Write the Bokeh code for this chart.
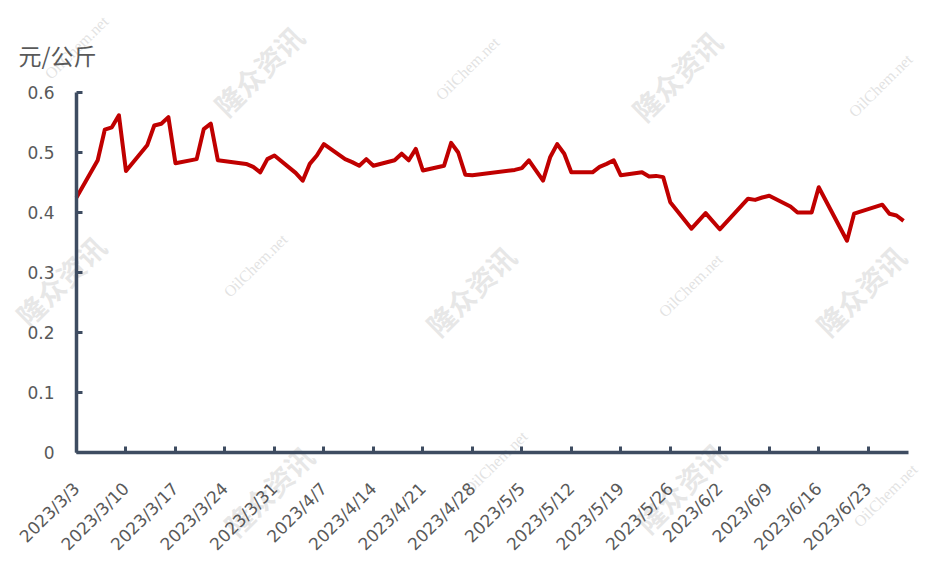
import pandas as pd
from bokeh.plotting import figure
from bokeh.models import Range1d, FixedTicker, Label
from bokeh.embed import file_html
from bokeh.resources import INLINE
from math import pi

# ---- data ----
dates = ["2023-03-03", "2023-03-06", "2023-03-07", "2023-03-08", "2023-03-09", "2023-03-10",
         "2023-03-13", "2023-03-14", "2023-03-15", "2023-03-16", "2023-03-17",
         "2023-03-20", "2023-03-21", "2023-03-22", "2023-03-23",
         "2023-03-27", "2023-03-28", "2023-03-29", "2023-03-30", "2023-03-31",
         "2023-04-03", "2023-04-04", "2023-04-05", "2023-04-06", "2023-04-07",
         "2023-04-10", "2023-04-11", "2023-04-12", "2023-04-13", "2023-04-14",
         "2023-04-17", "2023-04-18", "2023-04-19", "2023-04-20", "2023-04-21",
         "2023-04-24", "2023-04-25", "2023-04-26", "2023-04-27", "2023-04-28",
         "2023-05-04", "2023-05-05", "2023-05-06",
         "2023-05-08", "2023-05-09", "2023-05-10", "2023-05-11", "2023-05-12",
         "2023-05-15", "2023-05-16", "2023-05-17", "2023-05-18", "2023-05-19",
         "2023-05-22", "2023-05-23", "2023-05-24", "2023-05-25", "2023-05-26",
         "2023-05-29", "2023-05-31", "2023-06-02",
         "2023-06-06", "2023-06-07", "2023-06-08", "2023-06-09",
         "2023-06-12", "2023-06-13", "2023-06-15", "2023-06-16",
         "2023-06-20", "2023-06-21",
         "2023-06-25", "2023-06-26", "2023-06-27", "2023-06-28"]
prices = [0.425, 0.487, 0.538, 0.542, 0.562, 0.469,
          0.512, 0.545, 0.548, 0.559, 0.482,
          0.489, 0.539, 0.548, 0.487,
          0.481, 0.476, 0.467, 0.489, 0.495,
          0.466, 0.453, 0.481, 0.495, 0.514,
          0.489, 0.484, 0.478, 0.489, 0.478,
          0.487, 0.498, 0.487, 0.506, 0.470,
          0.478, 0.516, 0.500, 0.463, 0.462,
          0.471, 0.474, 0.487,
          0.453, 0.492, 0.514, 0.498, 0.467,
          0.467, 0.476, 0.481, 0.487, 0.462,
          0.467, 0.460, 0.461, 0.459, 0.417,
          0.373, 0.399, 0.372,
          0.423, 0.421, 0.425, 0.428,
          0.410, 0.400, 0.400, 0.442,
          0.353, 0.398,
          0.413, 0.398, 0.395, 0.386]

tick_dates = ["2023-03-03", "2023-03-10", "2023-03-17", "2023-03-24", "2023-03-31",
              "2023-04-07", "2023-04-14", "2023-04-21", "2023-04-28", "2023-05-05",
              "2023-05-12", "2023-05-19", "2023-05-26", "2023-06-02", "2023-06-09",
              "2023-06-16", "2023-06-23"]
tick_labels = ["2023/3/3", "2023/3/10", "2023/3/17", "2023/3/24", "2023/3/31",
               "2023/4/7", "2023/4/14", "2023/4/21", "2023/4/28", "2023/5/5",
               "2023/5/12", "2023/5/19", "2023/5/26", "2023/6/2", "2023/6/9",
               "2023/6/16", "2023/6/23"]
y_ticks = [0, 0.1, 0.2, 0.3, 0.4, 0.5, 0.6]
y_labels = ["0", "0.1", "0.2", "0.3", "0.4", "0.5", "0.6"]
unit_label = "元/公斤"
wm_cn = "隆众资讯"
wm_en = "OilChem.net"

# ---- layout geometry (pixels within the canvas, measured from top-left) ----
W, H = 924, 560
plot_left, plot_right, plot_top, plot_bottom = 76, 908, 92, 452
DAY = 86400000
t0 = pd.Timestamp("2023-03-03").value / 1e6
t_end = pd.Timestamp("2023-06-28").value / 1e6 + 0.7 * DAY
px_per_ms = (plot_right - plot_left) / (t_end - t0)
y_top_val = 0.6
px_per_unit = (plot_bottom - plot_top) / y_top_val

x_start = t0 - plot_left / px_per_ms
x_end = t0 + (W - plot_left) / px_per_ms
y_start = -(H - plot_bottom) / px_per_unit
y_end = plot_bottom / px_per_unit

x = pd.to_datetime(dates)
tick_ms = [pd.Timestamp(d).value / 1e6 for d in tick_dates]

p = figure(width=W, height=H, x_axis_type="datetime",
           output_backend="svg", toolbar_location=None,
           x_range=Range1d(x_start, x_end), y_range=Range1d(y_start, y_end),
           min_border=0)
p.outline_line_color = None
p.grid.visible = False
p.background_fill_color = "white"
p.border_fill_color = "white"

axis_color = "#3E4C61"
label_color = "#595959"

p.xaxis.fixed_location = 0
p.xaxis.bounds = (t0, t_end)
p.yaxis.fixed_location = t0
p.yaxis.bounds = (0, y_top_val)

p.xaxis.ticker = FixedTicker(ticks=tick_ms)
p.xaxis.major_label_overrides = {t: l for t, l in zip(tick_ms, tick_labels)}
p.xaxis.major_label_orientation = pi / 4
p.xaxis.minor_tick_line_color = None

p.yaxis.ticker = FixedTicker(ticks=y_ticks)
p.yaxis.major_label_overrides = {t: l for t, l in zip(y_ticks, y_labels)}
p.yaxis.minor_tick_line_color = None

for ax in (p.xaxis, p.yaxis):
    ax.axis_line_color = axis_color
    ax.axis_line_width = 3.5
    ax.major_tick_line_color = axis_color
    ax.major_tick_line_width = 3
    ax.major_tick_in = 6
    ax.major_tick_out = 0
    ax.major_label_text_color = label_color
    ax.major_label_text_font = "DejaVu Sans"
p.xaxis.major_label_text_font_size = "17px"
p.yaxis.major_label_text_font_size = "17px"
p.xaxis.major_label_standoff = 33
p.yaxis.major_label_standoff = 22

# watermarks (canvas pixel centres, y measured from the top)
cn_pos = [(258, 70), (676, 75), (60, 280), (470, 290), (860, 290), (268, 490), (680, 487)]
en_pos = [(76, 47), (467, 68), (880, 85), (255, 265), (690, 285), (495, 462), (885, 495)]
for (px, py) in cn_pos:
    p.add_layout(Label(x=px, y=H - py, x_units="screen", y_units="screen",
                       text=wm_cn, angle=0.78, text_align="center", text_baseline="middle",
                       text_font="Noto Sans CJK SC", text_font_style="bold",
                       text_font_size="28px", text_color="#cfcfcf", text_alpha=0.5,
                       level="underlay"))
for (px, py) in en_pos:
    p.add_layout(Label(x=px, y=H - py, x_units="screen", y_units="screen",
                       text=wm_en, angle=0.78, text_align="center", text_baseline="middle",
                       text_font="Liberation Serif", text_font_size="16px",
                       text_color="#cfcfcf", text_alpha=0.6, level="underlay"))

p.line(x, prices, line_color="#C00000", line_width=4, line_join="round")

p.add_layout(Label(x=18, y=H - 54, x_units="screen", y_units="screen",
                   text=unit_label, text_align="left", text_baseline="middle",
                   text_font="Noto Sans CJK SC", text_font_size="23px",
                   text_color=label_color))

open("out.html", "w").write(file_html(p, INLINE))
